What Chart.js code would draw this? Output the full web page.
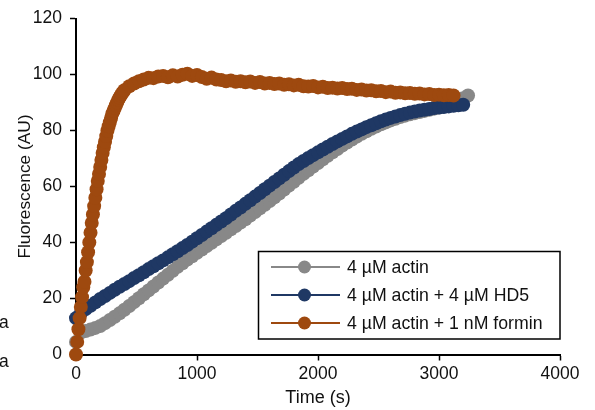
<!DOCTYPE html>
<html>
<head>
<meta charset="utf-8">
<script src="https://cdn.jsdelivr.net/npm/chart.js@4.4.0/dist/chart.umd.min.js"></script>
<style>
  html, body { margin: 0; padding: 0; background: #fff; }
</style>
</head>
<body>
<canvas id="myChart" width="595" height="410"></canvas>
<script>
// series labels
var labels = ['4 \u00b5M actin', '4 \u00b5M actin + 4 \u00b5M HD5', '4 \u00b5M actin + 1 nM formin'];

// 4 uM actin (gray)
var actinTime = [0,40,80,120,160,200,240,280,320,360,400,440,480,520,560,600,640,680,720,760,800,840,880,920,960,1000,
  1040,1080,1120,1160,1200,1240,1280,1320,1360,1400,1440,1480,1520,1560,1600,1640,1680,1720,1760,1800,1840,1880,1920,1960,2000,
  2040,2080,2120,2160,2200,2240,2280,2320,2360,2400,2440,2480,2520,2560,2600,2640,2680,2720,2760,2800,2840,2880,2920,2960,3000,
  3040,3080,3120,3160,3200,3240];
var actinValues = [4.5,7.8,8.4,8.9,9.5,10.2,11.2,12.3,13.5,14.7,16,17.3,18.7,20.1,21.5,22.9,24.3,25.7,27.1,28.5,29.9,31.3,32.6,33.9,35.1,36.3,
  37.5,38.7,39.9,41.1,42.3,43.5,44.7,45.9,47.1,48.3,49.6,50.9,52.2,53.5,54.8,56.1,57.5,58.9,60.3,61.7,63.1,64.5,65.8,67.1,68.4,
  69.7,71,72.2,73.4,74.6,75.7,76.8,77.8,78.8,79.7,80.6,81.4,82.2,82.9,83.6,84.2,84.8,85.3,85.8,86.2,86.6,87,87.4,87.8,88.2,
  88.7,89.2,89.8,90.6,91.5,92.5];

// 4 uM actin + 4 uM HD5 (navy)
var hd5Time = [0,40,80,120,160,200,240,280,320,360,400,440,480,520,560,600,640,680,720,760,800,840,880,920,960,1000,
  1040,1080,1120,1160,1200,1240,1280,1320,1360,1400,1440,1480,1520,1560,1600,1640,1680,1720,1760,1800,1840,1880,1920,1960,2000,
  2040,2080,2120,2160,2200,2240,2280,2320,2360,2400,2440,2480,2520,2560,2600,2640,2680,2720,2760,2800,2840,2880,2920,2960,3000,
  3040,3080,3120,3160,3200];
var hd5Values = [13,14.8,16.2,17.4,18.6,19.8,20.9,22,23.1,24.2,25.2,26.2,27.3,28.3,29.4,30.5,31.5,32.6,33.6,34.7,35.8,36.9,38,39.1,40.3,41.5,
  42.7,43.9,45.1,46.3,47.5,48.7,50,51.3,52.5,53.8,55.1,56.4,57.7,59,60.3,61.6,62.9,64.2,65.5,66.8,68,69.1,70.2,71.2,72.2,
  73.2,74.2,75.2,76.1,77,77.9,78.8,79.6,80.4,81.2,81.9,82.6,83.3,83.9,84.5,85,85.5,86,86.4,86.8,87.1,87.4,87.7,88,88.2,
  88.4,88.6,88.8,89,89.2];

// 4 uM actin + 1 nM formin (orange)
var forminTime = [0,10,20,30,40,50,60,70,80,90,100,110,120,130,140,150,160,170,180,190,200,210,220,230,240,250,260,270,280,290,300,
  310,320,330,340,350,360,370,380,390,400,
  440,480,520,560,600,640,680,720,760,800,840,880,920,960,1000,1040,1080,1120,1160,1200,1240,1280,1320,1360,1400,1440,1480,1520,
  1560,1600,1640,1680,1720,1760,1800,1840,1880,1920,1960,2000,2040,2080,2120,2160,2200,2240,2280,2320,2360,2400,2440,2480,2520,
  2560,2600,2640,2680,2720,2760,2800,2840,2880,2920,2960,3000,3040,3080,3120];
var forminValues = [0,4.5,9,13,17,20.5,24,26,30,33,36.5,40,43.5,47,50,53,56,59,62,64.5,67,69.5,72,74,76,78,80,81.5,83,84.5,86,
  87,88,89,90,91,91.8,92.5,93.2,93.8,94.4,
  95.8,96.8,97.6,98.2,98.8,98.7,99.3,99.5,99,99.7,99.3,99.9,100.3,99.5,99.8,99.1,98.5,98.9,98.2,98,97.6,97.9,97.4,97.6,97.2,97.5,97,97.3,
  96.8,97,96.6,96.8,96.3,96.5,96.1,96.3,95.8,95.7,95.9,95.4,95.6,95.2,95.3,95,95.2,94.8,94.9,94.5,94.6,94.3,94.4,94,94.1,
  93.7,93.9,93.5,93.6,93.3,93.4,93.1,93.2,92.9,93,92.7,92.8,92.6,92.7,92.5];

var colors = ['rgb(136,136,136)', 'rgb(31,56,100)', 'rgb(158,73,15)'];

function toPoints(times, values) {
  return times.map(function (t, i) { return { x: t, y: values[i] }; });
}

var fontFamily = '"Liberation Sans", Arial, sans-serif';

// legend box drawn inside the plot, bottom right
var legendBox = {
  id: 'legendBox',
  afterDraw: function (chart) {
    var c = chart.ctx;
    c.save();
    c.strokeStyle = '#000';
    c.lineWidth = 1.5;
    c.strokeRect(258.5, 251.5, 301.5, 87.5);
    chart.data.datasets.forEach(function (ds, i) {
      var y = 267 + i * 28;
      c.strokeStyle = ds.borderColor;
      c.lineWidth = 2;
      c.beginPath();
      c.moveTo(271, y);
      c.lineTo(340, y);
      c.stroke();
      c.fillStyle = ds.pointBackgroundColor;
      c.beginPath();
      c.arc(304.5, y, 6.5, 0, Math.PI * 2);
      c.fill();
      c.fillStyle = '#111';
      c.font = '17.7px ' + fontFamily;
      c.textBaseline = 'middle';
      c.fillText(ds.label, 347, y + 1);
    });
    c.restore();
  }
};

// the two stray "a" letters at the left edge
var strayText = {
  id: 'strayText',
  afterDraw: function (chart) {
    var c = chart.ctx;
    c.save();
    c.fillStyle = '#111';
    c.font = '17.5px ' + fontFamily;
    c.textBaseline = 'alphabetic';
    c.fillText('a', -1, 328);
    c.fillText('a', -1, 367);
    c.restore();
  }
};

var ctx = document.getElementById('myChart').getContext('2d');
var myChart = new Chart(ctx, {
  type: 'line',
  data: {
    datasets: [
      { label: labels[0], data: toPoints(actinTime, actinValues), order: 3 },
      { label: labels[1], data: toPoints(hd5Time, hd5Values), order: 2 },
      { label: labels[2], data: toPoints(forminTime, forminValues), order: 1 }
    ].map(function (ds, i) {
      ds.borderColor = colors[i];
      ds.backgroundColor = colors[i];
      ds.pointBackgroundColor = colors[i];
      ds.pointBorderColor = colors[i];
      ds.pointBorderWidth = 0;
      ds.pointRadius = 7;
      ds.borderWidth = 2;
      ds.tension = 0;
      ds.clip = false;
      return ds;
    })
  },
  options: {
    responsive: false,
    animation: false,
    layout: { padding: { left: 0, right: 35, top: 16, bottom: 0 } },
    plugins: {
      legend: { display: false },
      tooltip: { enabled: false }
    },
    scales: {
      x: {
        type: 'linear',
        min: 0,
        max: 4000,
        ticks: {
          stepSize: 1000, color: '#111', padding: 3, font: { family: fontFamily, size: 17.5 },
          callback: function (v) { return String(v); }
        },
        grid: { drawOnChartArea: false, drawTicks: true, tickLength: 6, tickWidth: 1.5, tickColor: '#000' },
        border: { display: true, color: '#000', width: 2 },
        title: { display: true, text: 'Time (s)', color: '#111', padding: { top: 0, bottom: 1 }, font: { family: fontFamily, size: 18 } },
        afterFit: function (scale) { scale.height = 55.5; }
      },
      y: {
        min: 0,
        max: 120,
        ticks: { stepSize: 20, color: '#111', padding: 8, font: { family: fontFamily, size: 17.5 } },
        grid: { drawOnChartArea: false, drawTicks: true, tickLength: 6, tickWidth: 1.5, tickColor: '#000' },
        border: { display: true, color: '#000', width: 2 },
        title: { display: true, text: 'Fluorescence (AU)', color: '#111', padding: { top: 14.5, bottom: 0 }, font: { family: fontFamily, size: 17.3 } },
        afterFit: function (scale) { scale.width = 76; }
      }
    }
  },
  plugins: [legendBox, strayText]
});
</script>
</body>
</html>
